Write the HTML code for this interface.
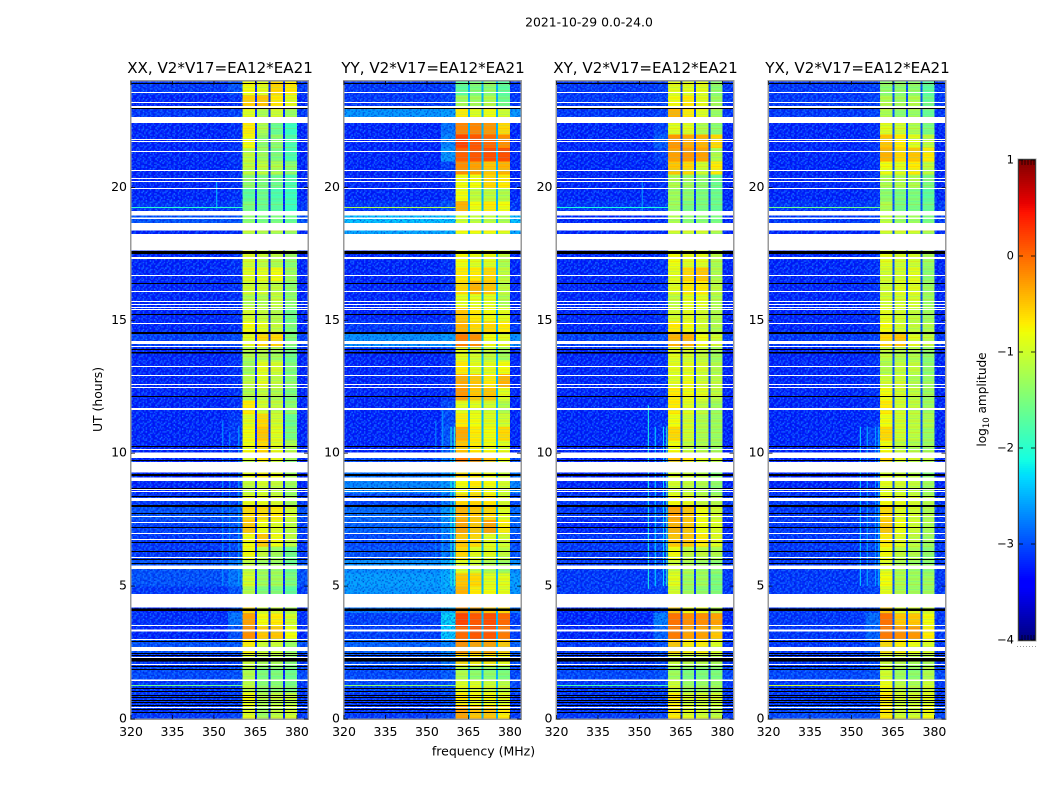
<!DOCTYPE html>
<html lang="en">
<head>
<meta charset="utf-8">
<title>2021-10-29 0.0-24.0 dynamic spectra</title>
<style>
html,body{margin:0;padding:0;background:#fff}
svg{display:block}
text{font-family:"DejaVu Sans","Liberation Sans",sans-serif;fill:#000}
</style>
</head>
<body>
<svg id="figure" xmlns="http://www.w3.org/2000/svg" width="1050" height="800" viewBox="0 0 1050 800">
  <rect x="0" y="0" width="1050" height="800" fill="#fff"/>
  <defs>
    <pattern id="grain" patternUnits="userSpaceOnUse" width="18.2" height="15.4"></pattern>
    <pattern id="grain-b" patternUnits="userSpaceOnUse" width="23.8" height="12.6"></pattern>
    <pattern id="stripes" patternUnits="userSpaceOnUse" width="4" height="19"></pattern>
  </defs>
  <text x="589" y="26.5" font-size="12.4" text-anchor="middle">2021-10-29 0.0-24.0</text>
  <g id="panels"></g>
  <text x="0" y="0" font-size="12.4" text-anchor="middle" transform="translate(102 399.5) rotate(-90)">UT (hours)</text>
  <text x="483.5" y="755.5" font-size="12.5" text-anchor="middle">frequency (MHz)</text>
  <g id="colorbar"></g>
  <text x="0" y="0" font-size="12.1" text-anchor="middle" transform="translate(986 399.5) rotate(-90)">log<tspan font-size="8.5" dy="3">10</tspan><tspan dy="-3"> amplitude</tspan></text>
</svg>
<script>
// ---- Axis tick data ----
const freqTicks = [320, 335, 350, 365, 380];
const hourTicks = [0, 5, 10, 15, 20];
const colorbarTicks = [1, 0, -1, -2, -3, -4];
const colorbarTickLabels = ['1', '0', '\u22121', '\u22122', '\u22123', '\u22124'];

// ---- Frequency bands (MHz): background, shoulder, four channels with dark seams, right edge ----
const bandEdges = [320, 355, 360.4, 364.8, 365.5, 369.8, 370.5, 374.9, 375.6, 380, 384];

// ---- Flagged time ranges (UT hours), shared by all panels ----
const whiteLines = [23.58, 23.19, 21.79, 21.73, 21.36, 20.64, 20.33, 20.21, 19.94, 17.37, 17.31, 16.69, 16.10, 15.70, 15.59, 15.49, 15.39, 14.89, 14.01, 13.27, 12.93, 12.57, 12.48, 10.15, 8.62, 8.54, 7.61, 7.40, 6.99, 6.76, 6.09, 3.53, 3.00, 2.33, 2.06, 0.45];
const whiteBandStarts = [22.99, 22.42, 18.94, 18.81, 18.37, 17.62, 14.11, 11.63, 9.81, 9.27, 8.95, 8.20, 5.65, 4.20, 3.30, 2.56, 1.43];
const whiteBandEnds = [23.06, 22.65, 19.11, 18.87, 18.66, 18.25, 14.22, 11.70, 10.02, 9.67, 9.09, 8.31, 5.77, 4.70, 3.37, 2.71, 1.49];
const blackLines = [23.89, 22.96, 16.39, 15.20, 13.91, 12.13, 10.26, 9.71, 8.66, 8.36, 8.04, 7.98, 7.72, 7.22, 6.63, 6.01, 5.86, 2.90, 2.47, 2.37, 1.97, 1.87, 1.13, 1.03, 0.90, 0.82, 0.69, 0.61, 0.52, 0.35, 0.26];
const blackBandStarts = [17.49, 14.48, 13.75, 9.14, 6.28, 4.07, 2.16];
const blackBandEnds = [17.61, 14.56, 13.81, 9.22, 6.32, 4.15, 2.29];

// ---- Log10 amplitude per half-hour row (row 0 = 0.0-0.5 UT) ----
// columns: background, shoulder, channel 1, channel 2, channel 3, channel 4
const xxLevels = [
[-3.15,-3.1,-.9,-1.3,-1.1,-1.0],[-3.15,-3.1,-.8,-1.2,-1.1,-1.1],[-3.15,-3.1,-1.1,-1.4,-1.4,-1.5],[-3.05,-3.0,-1.2,-1.5,-1.5,-1.6],
[-3.15,-3.1,-1.0,-1.2,-1.2,-1.4],[-3.0,-2.95,-.7,-1.0,-1.0,-1.3],[-3.25,-3.0,-.2,-.5,-.5,-.8],[-3.2,-2.8,-.3,-.8,-.7,-1.0],
[-3.25,-3.0,-.6,-1.0,-1.0,-1.2],[-3.15,-3.0,-1.2,-1.5,-1.5,-1.7],[-3.0,-2.8,-1.0,-1.3,-1.3,-1.5],[-3.0,-2.8,-1.1,-1.3,-1.3,-1.6],
[-3.15,-3.05,-.8,-1.1,-1.3,-1.6],[-3.15,-3.05,-.8,-.5,-.8,-1.1],[-3.1,-3.0,-.5,-.8,-.9,-1.1],[-3.0,-2.95,-.6,-.6,-.7,-1.0],
[-3.15,-3.1,-.9,-.9,-1.0,-1.3],[-3.25,-3.2,-1.1,-1.0,-1.1,-1.3],[-3.25,-3.2,-.8,-.7,-.8,-1.2],[-3.25,-3.2,-1.0,-.7,-.9,-1.3],
[-3.25,-3.2,-.8,-.6,-.9,-1.2],[-3.25,-3.15,-.8,-.5,-.9,-1.5],[-3.25,-3.15,-.9,-.6,-1.0,-1.6],[-3.25,-3.2,-.7,-1.0,-1.1,-1.4],
[-3.25,-3.2,-1.2,-1.1,-1.2,-1.5],[-3.25,-3.2,-1.1,-.9,-1.1,-1.4],[-3.25,-3.2,-1.3,-.9,-1.0,-1.5],[-3.25,-3.2,-1.2,-1.2,-1.3,-1.6],
[-3.1,-3.05,-.9,-.6,-.6,-1.5],[-3.25,-3.2,-.8,-.9,-1.1,-1.5],[-3.25,-3.2,-1.0,-1.1,-1.2,-1.6],[-3.25,-3.2,-1.2,-1.2,-1.1,-1.4],
[-3.25,-3.2,-1.0,-1.0,-1.1,-1.4],[-3.25,-3.2,-.9,-.9,-.8,-1.3],[-3.25,-3.2,-1.0,-1.1,-1.2,-1.4],[-3.25,-3.2,-.9,-1.0,-1.0,-1.2],
[-3.25,-3.2,-1.1,-1.2,-1.2,-1.3],[-3.0,-3.0,-1.4,-1.5,-1.5,-1.6],[-3.15,-3.1,-1.5,-1.6,-1.7,-1.9],[-3.25,-3.2,-1.7,-1.6,-1.8,-1.9],
[-3.25,-3.2,-1.4,-1.5,-1.6,-1.8],[-3.25,-3.2,-1.1,-1.1,-1.2,-1.4],[-3.25,-3.2,-1.1,-1.3,-1.5,-1.8],[-3.25,-3.2,-.8,-1.4,-1.4,-1.8],
[-3.25,-3.2,-.7,-1.2,-1.6,-1.9],[-3.15,-3.1,-.9,-1.2,-1.0,-1.3],[-3.25,-3.2,-.55,-.5,-.7,-.9],[-3.15,-3.0,-.8,-.9,-.6,-.7]];
const yyLevels = [
[-3.15,-3.05,-.3,-.5,-.5,-.7],[-3.15,-3.05,-.7,-.8,-.8,-.9],[-3.05,-3.0,-.9,-.9,-1.0,-1.1],[-3.05,-2.95,-1.2,-1.4,-1.4,-1.5],
[-3.0,-2.8,-.6,-.7,-.7,-.8],[-2.9,-2.7,-.2,-.3,-.3,-.5],[-3.1,-2.3,.0,.1,.1,-.1],[-3.1,-2.25,.2,.1,.15,.0],
[-2.8,-2.5,-.2,-.3,-.5,-.6],[-2.6,-2.5,-.4,-.7,-.8,-.9],[-2.55,-2.45,-.5,-.6,-.9,-.9],[-2.65,-2.5,-.9,-1.0,-1.2,-1.3],
[-3.0,-2.8,-.6,-.9,-.9,-1.1],[-3.05,-2.85,-.5,-.6,-.9,-1.0],[-2.9,-2.7,-.3,-.5,-.3,-.7],[-2.85,-2.6,-.4,-.5,-.6,-.9],
[-3.05,-2.85,-.6,-.6,-.7,-1.0],[-2.7,-2.6,-.8,-.7,-.8,-1.0],[-2.8,-2.7,-.6,-.7,-.8,-1.0],[-3.05,-2.85,-.1,-.2,-.5,-.8],
[-3.25,-3.0,-.5,-.7,-.8,-.9],[-3.25,-3.0,-.35,-.7,-.8,-.6],[-3.25,-3.05,-.7,-.8,-.9,-1.0],[-3.25,-3.05,-.9,-.9,-1.0,-1.2],
[-3.25,-3.2,-.25,-.5,-.5,-.9],[-3.25,-3.2,-.35,-.5,-.7,-.4],[-3.25,-3.2,-.7,-.9,-.9,-.8],[-3.25,-3.2,-.9,-1.0,-1.1,-1.3],
[-2.65,-2.6,-.1,-.2,-.8,-.9],[-3.15,-3.1,-.4,-.6,-.6,-.7],[-3.25,-3.2,-.5,-.7,-.8,-.9],[-3.25,-3.2,-.9,-.9,-.9,-1.2],
[-3.25,-3.2,-.6,-.4,-.5,-1.1],[-3.25,-3.2,-.7,-.7,-.6,-1.1],[-3.25,-3.2,-.8,-.9,-.9,-1.2],[-3.25,-3.2,-.8,-.8,-.8,-1.0],
[-2.5,-2.45,-.8,-.8,-.8,-.9],[-2.35,-2.35,-1.0,-1.1,-1.1,-1.2],[-3.15,-3.0,-.4,-.8,-.7,-.8],[-3.25,-3.2,-.8,-1.1,-1.1,-1.2],
[-3.25,-3.2,-.8,-.8,-.6,-.7],[-3.25,-3.1,-.2,-.3,-.5,-.4],[-3.25,-2.6,.05,.1,.15,.15],[-3.25,-2.7,.2,.1,.0,-.2],
[-3.25,-2.8,-.15,-.15,-.25,-.6],[-2.6,-2.55,-.7,-.9,-.8,-1.0],[-3.15,-3.1,-1.3,-1.3,-1.2,-1.6],[-3.15,-3.1,-1.7,-1.5,-1.4,-1.7]];
const xyLevels = [
[-3.15,-3.1,-.7,-.9,-1.0,-1.1],[-3.15,-3.1,-.7,-1.0,-1.0,-1.0],[-3.15,-3.1,-1.0,-1.3,-1.3,-1.3],[-3.05,-3.0,-1.3,-1.5,-1.5,-1.5],
[-3.15,-3.05,-1.0,-1.1,-1.1,-1.2],[-3.15,-3.0,-.5,-.7,-.7,-.9],[-3.25,-2.9,-.1,-.3,-.3,-.5],[-3.25,-2.75,-.05,-.2,-.2,-.3],
[-3.25,-3.05,-.5,-.8,-.8,-1.1],[-3.15,-3.1,-1.0,-1.3,-1.4,-1.5],[-3.15,-3.05,-.9,-1.3,-1.3,-1.5],[-3.15,-3.05,-1.0,-1.2,-1.3,-1.4],
[-3.15,-3.05,-.8,-1.1,-1.1,-1.2],[-3.15,-3.0,-.5,-.5,-.7,-.9],[-3.25,-3.05,-.4,-.5,-.8,-.9],[-3.15,-3.05,-.3,-.5,-.8,-1.0],
[-3.15,-3.1,-.8,-.9,-1.1,-1.2],[-3.25,-3.2,-1.0,-1.1,-1.2,-1.4],[-3.25,-3.2,-.9,-1.0,-1.1,-1.4],[-3.25,-3.2,-.5,-.7,-.9,-1.0],
[-3.25,-3.2,-.8,-1.1,-1.2,-1.3],[-3.25,-3.2,-.6,-1.0,-1.2,-1.3],[-3.25,-3.2,-.8,-1.0,-1.2,-1.3],[-3.25,-3.2,-.7,-.9,-1.1,-1.3],
[-3.25,-3.2,-.7,-.8,-.9,-1.1],[-3.25,-3.2,-.9,-.8,-1.0,-1.1],[-3.25,-3.2,-.9,-.9,-1.0,-1.2],[-3.25,-3.2,-.9,-1.0,-1.1,-1.3],
[-3.1,-3.05,-.4,-.4,-.8,-1.0],[-3.25,-3.2,-.7,-.8,-1.0,-1.2],[-3.25,-3.2,-1.0,-.9,-1.0,-1.2],[-3.25,-3.2,-1.1,-.9,-.9,-1.2],
[-3.25,-3.2,-.9,-.7,-.7,-1.1],[-3.25,-3.2,-.9,-.6,-.5,-1.2],[-3.25,-3.2,-.8,-.9,-.9,-1.2],[-3.25,-3.2,-.9,-.9,-.9,-1.1],
[-3.25,-3.2,-1.0,-1.0,-1.0,-1.2],[-3.25,-3.2,-1.2,-1.4,-1.4,-1.5],[-3.15,-3.1,-1.3,-1.5,-1.5,-1.6],[-3.25,-3.2,-1.3,-1.4,-1.5,-1.6],
[-3.25,-3.2,-1.2,-1.3,-1.4,-1.6],[-3.25,-3.2,-.5,-.6,-1.0,-.7],[-3.25,-3.1,-.3,-.25,-.3,-1.2],[-3.25,-2.95,-.25,-.35,-.4,-.6],
[-3.25,-3.1,-.9,-.9,-1.2,-1.4],[-3.15,-3.1,-.4,-.7,-.9,-1.3],[-3.15,-3.1,-.8,-.7,-.9,-1.3],[-3.15,-3.1,-.9,-.9,-.9,-1.4]];
const yxLevels = [
[-3.05,-3.05,-.7,-1.0,-1.0,-.8],[-3.15,-3.1,-.7,-1.0,-1.0,-.9],[-3.15,-3.1,-.8,-1.1,-1.2,-1.0],[-3.05,-3.0,-1.0,-1.3,-1.4,-1.2],
[-3.15,-3.05,-1.0,-1.1,-1.2,-1.2],[-3.15,-3.0,-.6,-.7,-.8,-.9],[-3.15,-2.9,-.1,-.2,-.25,-.7],[-3.15,-2.85,-.05,-.5,-.5,-.8],
[-3.15,-3.05,-.5,-.9,-.9,-1.0],[-3.15,-3.1,-.9,-1.2,-1.3,-1.3],[-3.15,-3.05,-.8,-1.2,-1.3,-1.3],[-3.15,-3.05,-.9,-1.2,-1.3,-1.4],
[-3.15,-3.05,-.8,-1.1,-1.2,-1.4],[-3.15,-3.05,-.7,-.9,-1.1,-1.3],[-3.15,-3.05,-.5,-.8,-1.0,-1.2],[-3.15,-3.05,-.6,-.9,-1.0,-1.2],
[-3.15,-3.1,-.8,-.9,-1.0,-1.2],[-3.25,-3.2,-.9,-1.0,-1.1,-1.3],[-3.25,-3.2,-.9,-1.0,-1.1,-1.4],[-3.25,-3.2,-.6,-.9,-1.0,-1.1],
[-3.25,-3.1,-.8,-1.1,-1.2,-1.3],[-3.25,-3.1,-.6,-1.0,-1.1,-1.3],[-3.25,-3.2,-.8,-1.0,-1.1,-1.2],[-3.25,-3.2,-.7,-1.0,-1.1,-1.3],
[-3.25,-3.2,-.8,-1.0,-1.1,-1.3],[-3.25,-3.2,-1.0,-1.0,-1.2,-1.3],[-3.25,-3.2,-1.2,-1.1,-1.1,-1.4],[-3.25,-3.2,-1.1,-1.2,-1.2,-1.4],
[-3.15,-3.1,-.6,-.5,-.9,-1.1],[-3.25,-3.2,-.8,-1.0,-1.1,-1.2],[-3.25,-3.2,-.9,-1.0,-1.1,-1.3],[-3.25,-3.2,-1.0,-1.0,-1.0,-1.3],
[-3.25,-3.2,-1.0,-.9,-.9,-1.3],[-3.25,-3.2,-1.0,-1.0,-.9,-1.4],[-3.25,-3.2,-.9,-1.0,-1.0,-1.3],[-3.25,-3.2,-.9,-1.0,-1.0,-1.2],
[-3.25,-3.2,-1.0,-1.0,-1.0,-1.2],[-3.15,-3.1,-1.1,-1.3,-1.3,-1.5],[-3.15,-3.1,-1.2,-1.5,-1.5,-1.6],[-3.25,-3.2,-1.4,-1.5,-1.5,-1.7],
[-3.25,-3.2,-1.2,-1.2,-1.2,-1.5],[-3.25,-3.2,-.8,-.9,-.7,-1.1],[-3.25,-3.2,-.4,-.6,-.5,-.7],[-3.25,-3.2,-.5,-.7,-.9,-1.1],
[-3.25,-3.2,-.9,-1.0,-1.2,-1.5],[-3.15,-3.1,-1.2,-1.4,-1.3,-1.6],[-3.15,-3.1,-1.2,-1.3,-1.2,-1.6],[-3.15,-3.1,-1.4,-1.4,-1.4,-1.7]];

// ---- Level of the dark seams between channels in each panel ----
const xxSeam = -3.2;
const yySeam = -2.5;
const xySeam = -3.1;
const yxSeam = -3.0;

// ---- Narrow interference lines: [MHz, start hour, end hour, level] ----
const xxSpectralLines = [[353.2,5,11.2,-2.6],[355.7,5,10.8,-2.7],[359,5,11,-2.5],[351,19.2,20.2,-2.4]];
const yySpectralLines = [[353.2,5,11.2,-2.7],[355.7,5,11.6,-2.6],[358.7,5,11,-2.1],[359.9,5,11,-2.1]];
const xySpectralLines = [[353.2,4.9,11.8,-2.1],[355.7,5,11,-2.3],[358.7,5,11,-2.3],[359.9,5,11,-1.9],[351,18.9,20.2,-2.6]];
const yxSpectralLines = [[353.2,5,11,-2.3],[355.7,5,11,-2.5],[358.7,5,11,-2.6],[359.9,5,11,-2.4]];
// ---- Brief broadband bursts: [hour, level] ----
const xxBursts = [[19.26,-2.0],[1.26,-1.6]];
const yyBursts = [[19.26,-1.2],[1.26,-1.4]];
const xyBursts = [[19.26,-2.1],[1.26,-1.8]];
const yxBursts = [[19.26,-1.6],[1.26,-1.0]];

// ---- Panel labels ----
const panelKeys = ['xx', 'yy', 'xy', 'yx'];
const panelTitles = ['XX, V2*V17=EA12*EA21', 'YY, V2*V17=EA12*EA21', 'XY, V2*V17=EA12*EA21', 'YX, V2*V17=EA12*EA21'];
const panelLevels = [xxLevels, yyLevels, xyLevels, yxLevels];
const panelSeams = [xxSeam, yySeam, xySeam, yxSeam];
const panelLines = [xxSpectralLines, yySpectralLines, xySpectralLines, yxSpectralLines];
const panelBursts = [xxBursts, yyBursts, xyBursts, yxBursts];

// ---- Layout ----
const panelLefts = [131, 344, 556.5, 768.5];
const panelWidth = 177;
const panelTop = 81;
const panelBottom = 719;
const freqMin = 320, freqMax = 384, hourMin = 0, hourMax = 24;
const rowHours = 0.5;
const cbLeft = 1019, cbWidth = 16, cbTop = 160, cbBottom = 640, cbMin = -4, cbMax = 1;

const NS = 'http://www.w3.org/2000/svg';
function make(tag, parent, attrs) {
  const el = document.createElementNS(NS, tag);
  for (const k in attrs) el.setAttribute(k, attrs[k]);
  parent.appendChild(el);
  return el;
}
function xScale(left, mhz) { return left + (mhz - freqMin) / (freqMax - freqMin) * panelWidth; }
function yScale(hour) { return panelBottom - (hour - hourMin) / (hourMax - hourMin) * (panelBottom - panelTop); }
function cbScale(v) { return cbBottom - (v - cbMin) / (cbMax - cbMin) * (cbBottom - cbTop); }

// Matplotlib "jet" colour map
const jetR = [[0,0],[.35,0],[.66,1],[.89,1],[1,.5]];
const jetG = [[0,0],[.125,0],[.375,1],[.64,1],[.91,0],[1,0]];
const jetB = [[0,.5],[.11,1],[.34,1],[.65,0],[1,0]];
function ramp(pts, t) {
  for (let i = 1; i < pts.length; i++) {
    if (t <= pts[i][0]) {
      const a = pts[i - 1], b = pts[i];
      return a[1] + (b[1] - a[1]) * (t - a[0]) / (b[0] - a[0]);
    }
  }
  return pts[pts.length - 1][1];
}
function color(v) {
  const t = Math.max(0, Math.min(1, (v - cbMin) / (cbMax - cbMin)));
  return 'rgb(' + Math.round(ramp(jetR, t) * 255) + ',' + Math.round(ramp(jetG, t) * 255) + ',' + Math.round(ramp(jetB, t) * 255) + ')';
}

// Speckle texture tiles (purely visual, the data is the level tables above)
const grainRows = [
'1002010020100',
'0200100201002',
'0010200012010',
'2001002100200',
'0100020010012',
'1020100200100',
'0001020102001',
'2010002010020',
'0020101000102',
'1000200120010',
'0201010002000'];
const grainBRows = [
'02000100200100020',
'10002000010002000',
'00100020000200101',
'20000100102000000',
'00201000000100200',
'01000002010000010',
'00020100000201000',
'10000000200010002',
'00102000100000100'];
function fillTile(tile, rows, lightAlpha, darkAlpha) {
  rows.forEach(function (row, r) {
    row.split('').forEach(function (c, col) {
      if (c === '0') return;
      make('rect', tile, { x: col * 1.4, y: r * 1.4, width: 1.4, height: 1.4, fill: c === '1' ? '#1a90ff' : '#0018c8', 'fill-opacity': c === '1' ? lightAlpha : darkAlpha });
    });
  });
}
fillTile(document.getElementById('grain'), grainRows, 0.55, 0.45);
fillTile(document.getElementById('grain-b'), grainBRows, 0.55, 0.45);
const stripeOffsets = [0, 2.5, 5, 8.5, 11, 14, 16.5];
const stripeTile = document.getElementById('stripes');
stripeOffsets.forEach(function (y, i) {
  make('rect', stripeTile, { x: 0, y: y, width: 4, height: 1, fill: i % 2 ? '#ff7a00' : '#30d0ff', 'fill-opacity': 0.16 });
});

const panelsGroup = document.getElementById('panels');
panelKeys.forEach(function (key, p) {
  const left = panelLefts[p];
  const right = left + panelWidth;
  const levels = panelLevels[p];
  const g = make('g', panelsGroup, {});
  
  

  const clipId = 'clip-' + key;
  const clip = make('clipPath', g, { id: clipId });
  make('rect', clip, { x: left, y: panelTop, width: panelWidth, height: panelBottom - panelTop });

  const heat = make('g', g, { 'clip-path': 'url(#' + clipId + ')', 'shape-rendering': 'crispEdges' });
  
  

  levels.forEach(function (row, r) {
    const yTop = yScale((r + 1) * rowHours);
    const yBot = yScale(r * rowHours);
    // bands: bg, shoulder, ch1, seam, ch2, seam, ch3, seam, ch4, right edge
    const values = [row[0], row[1], row[2], panelSeams[p], row[3], panelSeams[p], row[4], panelSeams[p], row[5], row[0]];
    values.forEach(function (v, b) {
      const x0 = xScale(left, bandEdges[b]);
      const x1 = xScale(left, bandEdges[b + 1]);
      const cell = make('rect', heat, { x: x0, y: yTop, width: x1 - x0, height: yBot - yTop + 0.5, fill: color(v) });
      
      
    });
  });

  const over = make('g', g, { 'clip-path': 'url(#' + clipId + ')' });
  
  
  const cutA = xScale(left, bandEdges[2]);
  const cutB = xScale(left, bandEdges[9]);
  ['grain', 'grain-b'].forEach(function (tileId) {
    const grainA = make('rect', over, { x: left, y: panelTop, width: cutA - left, height: panelBottom - panelTop, fill: 'url(#' + tileId + ')' });
    
    
    const grainB = make('rect', over, { x: cutB, y: panelTop, width: right - cutB, height: panelBottom - panelTop, fill: 'url(#' + tileId + ')' });
    
    
  });
  const stripes = make('rect', over, { x: cutA, y: panelTop, width: cutB - cutA, height: panelBottom - panelTop, fill: 'url(#stripes)' });
  
  

  panelLines[p].forEach(function (l) {
    const mark = make('rect', over, { x: xScale(left, l[0]) - 0.5, y: yScale(l[2]), width: 1, height: yScale(l[1]) - yScale(l[2]), fill: color(l[3]) });
    
    
  });
  panelBursts[p].forEach(function (bst) {
    const mark = make('rect', over, { x: left, y: Math.round(yScale(bst[0]) - 0.5), width: cutA - left, height: 1, fill: color(bst[1]) });
    
    
  });

  const flags = make('g', g, { 'clip-path': 'url(#' + clipId + ')', 'shape-rendering': 'crispEdges' });
  
  
  whiteLines.forEach(function (h) {
    const mark = make('rect', flags, { x: left, y: Math.round(yScale(h) - 0.5), width: panelWidth, height: 1, fill: '#fff' });
    
    
  });
  whiteBandStarts.forEach(function (h0, i) {
    const mark = make('rect', flags, { x: left, y: yScale(whiteBandEnds[i]), width: panelWidth, height: yScale(h0) - yScale(whiteBandEnds[i]), fill: '#fff' });
    
    
  });
  blackLines.forEach(function (h) {
    const mark = make('rect', flags, { x: left, y: Math.round(yScale(h) - 0.5), width: panelWidth, height: 1, fill: '#000' });
    
    
  });
  blackBandStarts.forEach(function (h0, i) {
    const mark = make('rect', flags, { x: left, y: yScale(blackBandEnds[i]), width: panelWidth, height: yScale(h0) - yScale(blackBandEnds[i]), fill: '#000' });
    
    
  });

  const frame = make('rect', g, { x: left - 0.25, y: panelTop - 0.25, width: panelWidth + 0.5, height: panelBottom - panelTop + 0.5, fill: 'none', stroke: '#9a9a9a', 'stroke-width': 1.5 });
  
  

  freqTicks.forEach(function (f) {
    const x = xScale(left, f);
    const t1 = make('line', g, { x1: x, x2: x, y1: panelBottom, y2: panelBottom - 4, stroke: '#000', 'stroke-width': 0.7 });
    
    
    const t2 = make('line', g, { x1: x, x2: x, y1: panelTop, y2: panelTop + 4, stroke: '#000', 'stroke-width': 0.7 });
    
    
    const lab = make('text', g, { x: x, y: panelBottom + 17, 'font-size': 12.5, 'text-anchor': 'middle' });
    
    
    lab.textContent = String(f);
  });
  hourTicks.forEach(function (h) {
    const y = yScale(h);
    const t1 = make('line', g, { x1: left, x2: left + 4, y1: y, y2: y, stroke: '#000', 'stroke-width': 0.7 });
    
    
    const t2 = make('line', g, { x1: right, x2: right - 4, y1: y, y2: y, stroke: '#000', 'stroke-width': 0.7 });
    
    
    const lab = make('text', g, { x: left - 4, y: y + 3.5, 'font-size': 12.5, 'text-anchor': 'end' });
    
    
    lab.textContent = String(h);
  });

  const title = make('text', g, { x: left + panelWidth / 2 + 0.5, y: 73, 'font-size': 15.1, 'text-anchor': 'middle' });
  
  
  title.textContent = panelTitles[p];
});

// ---- Colour bar ----
const cb = document.getElementById('colorbar');
for (let py = cbTop; py < cbBottom; py += 2) {
  const v = cbMax - (py + 1 - cbTop) / (cbBottom - cbTop) * (cbMax - cbMin);
  const swatch = make('rect', cb, { x: cbLeft, y: py, width: cbWidth, height: 2.2, fill: color(v), 'shape-rendering': 'crispEdges' });
  
  
}
const cbFrame = make('rect', cb, { x: cbLeft - 0.5, y: cbTop - 0.5, width: cbWidth + 1, height: cbBottom - cbTop + 1, fill: 'none', stroke: '#000', 'stroke-width': 0.9 });


const cbOuter = make('rect', cb, { x: cbLeft - 1.2, y: cbTop - 1.2, width: cbWidth + 2.4, height: cbBottom - cbTop + 2.4, fill: 'none', stroke: '#b5b5b5', 'stroke-width': 0.8 });


colorbarTicks.forEach(function (v, i) {
  const y = cbScale(v);
  const tl = make('line', cb, { x1: cbLeft, x2: cbLeft + 4, y1: y, y2: y, stroke: '#000', 'stroke-width': 0.8 });
  
  
  const tr = make('line', cb, { x1: cbLeft + cbWidth - 4, x2: cbLeft + cbWidth, y1: y, y2: y, stroke: '#000', 'stroke-width': 0.8 });
  
  
  const lab = make('text', cb, { x: cbLeft - 5, y: y + 3.5, 'font-size': 11.5, 'text-anchor': 'end' });
  
  
  lab.textContent = colorbarTickLabels[i];
});
for (let x = cbLeft + 3; x < cbLeft + cbWidth; x += 3) {
  const top = make('line', cb, { x1: x, x2: x, y1: cbTop, y2: cbTop + 5, stroke: '#000', 'stroke-width': 0.7 });
  
  
  const bottom = make('line', cb, { x1: x, x2: x, y1: cbBottom - 5, y2: cbBottom, stroke: '#000', 'stroke-width': 0.7 });
  
  
}
for (let x = cbLeft - 2; x < cbLeft + cbWidth + 1; x += 3) {
  const dot = make('rect', cb, { x: x, y: 646, width: 1, height: 1, fill: '#9a9a9a' });
  
  
}
</script>
</body>
</html>
